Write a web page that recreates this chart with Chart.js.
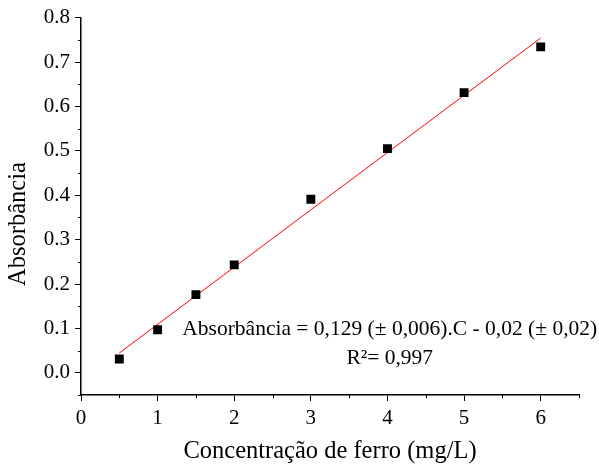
<!DOCTYPE html>
<html>
<head>
<meta charset="utf-8">
<script src="https://cdn.jsdelivr.net/npm/chart.js@4.4.1/dist/chart.umd.min.js"></script>
<style>
  html,body{margin:0;padding:0;background:#fff;}
  #wrap{width:599px;height:470px;}
</style>
</head>
<body>
<div id="wrap"><canvas id="calib"></canvas></div>
<script>
// calibration data - iron standards
const concentracao = [0.5, 1, 1.5, 2, 3, 4, 5, 6];
const absorbancia = [0.031, 0.097, 0.176, 0.243, 0.391, 0.505, 0.631, 0.734];
// fit parameters (same as the equation printed on the plot)
const slope = 0.129;
const intercept = -0.02;
const fitRange = [0.5, 6];
const xTicks = [0, 1, 2, 3, 4, 5, 6];
const yTicks = [0.0, 0.1, 0.2, 0.3, 0.4, 0.5, 0.6, 0.7, 0.8];
const eqLines = ['Absorbância = 0,129 (± 0,006).C - 0,02 (± 0,02)', 'R²= 0,997'];
const yTitle = 'Absorbância';

const serif = '"Liberation Serif", "Times New Roman", serif';

const pontos = concentracao.map((c, i) => ({x: c, y: absorbancia[i]}));
const reta = fitRange.map(c => ({x: c, y: slope * c + intercept}));

// minor ticks, y title and equation text
const extras = {
  id: 'extras',
  afterDraw(chart){
    const ctx = chart.ctx, xs = chart.scales.x, ys = chart.scales.y;
    ctx.save();
    ctx.strokeStyle = '#000';
    ctx.lineWidth = 1;
    ctx.beginPath();
    for(let v = 0.5; v < 6.6; v += 1){
      const px = Math.round(xs.getPixelForValue(v)) + 0.5;
      ctx.moveTo(px, ys.bottom); ctx.lineTo(px, ys.bottom + 3);
    }
    for(let v = -0.05; v < 0.8; v += 0.1){
      const py = Math.round(ys.getPixelForValue(v)) + 0.5;
      ctx.moveTo(xs.left, py); ctx.lineTo(xs.left - 3, py);
    }
    ctx.stroke();

    ctx.fillStyle = '#000';
    ctx.textAlign = 'center';
    ctx.textBaseline = 'middle';
    ctx.font = '21.5px ' + serif;
    const cx = xs.getPixelForValue(4.03);
    ctx.fillText(eqLines[0], cx, ys.getPixelForValue(0.097));
    ctx.fillText(eqLines[1], cx, ys.getPixelForValue(0.033));

    ctx.font = '24.5px ' + serif;
    ctx.translate(19, ys.getPixelForValue(0.335));
    ctx.rotate(-Math.PI / 2);
    ctx.fillText(yTitle, 0, 0);
    ctx.restore();
  }
};

new Chart(document.getElementById('calib'), {
  type: 'scatter',
  data: {
    datasets: [{
      label: 'Ajuste',
      type: 'line',
      data: reta,
      borderColor: '#ff0000',
      borderWidth: 1,
      pointRadius: 0,
      fill: false,
      order: 2
    },{
      label: 'Padrões',
      data: pontos,
      pointStyle: 'rect',
      pointRadius: 6.3,
      pointHoverRadius: 6.3,
      backgroundColor: '#000',
      borderColor: '#000',
      borderWidth: 0,
      order: 1
    }]
  },
  options: {
    responsive: true,
    maintainAspectRatio: false,
    animation: false,
    layout: {padding: {top: 17, right: 20, left: 0, bottom: 0}},
    plugins: {legend: {display: false}, tooltip: {enabled: false}},
    scales: {
      x: {
        type: 'linear',
        min: 0, max: 6.5,
        afterBuildTicks: a => { a.ticks = xTicks.map(v => ({value: v})); },
        afterFit: s => { s.height = 75; },
        grid: {drawOnChartArea: false, tickLength: 6, tickColor: '#000', tickWidth: 1},
        border: {display: true, color: '#000', width: 1.5},
        ticks: {color: '#000', font: {family: serif, size: 21}, padding: 5, maxRotation: 0,
                callback: v => String(v)},
        title: {display: true, text: 'Concentração de ferro (mg/L)', color: '#000',
                font: {family: serif, size: 24.5}, padding: {top: 5}}
      },
      y: {
        type: 'linear',
        min: -0.05, max: 0.8,
        afterBuildTicks: a => { a.ticks = yTicks.map(v => ({value: v})); },
        afterFit: s => { s.width = 81; },
        grid: {drawOnChartArea: false, tickLength: 6, tickColor: '#000', tickWidth: 1},
        border: {display: true, color: '#000', width: 1.5},
        ticks: {color: '#000', font: {family: serif, size: 21}, padding: 5,
                callback: v => Number(v).toFixed(1)},
        title: {display: false}
      }
    }
  },
  plugins: [extras]
});
</script>
</body>
</html>
